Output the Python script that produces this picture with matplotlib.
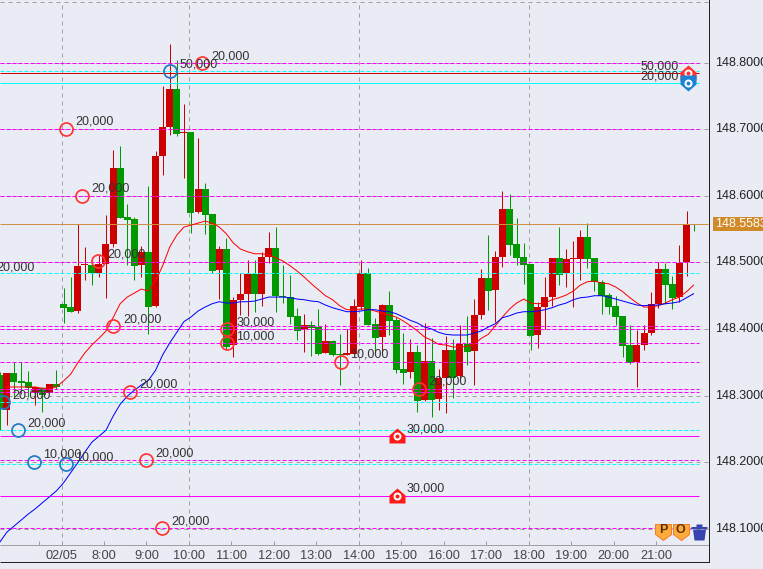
import numpy as np
import matplotlib
matplotlib.use("Agg")
import matplotlib.pyplot as plt
from matplotlib.path import Path
from matplotlib.patches import Rectangle

plt.rcParams["font.family"] = ["Liberation Sans", "DejaVu Sans"]
plt.rcParams["lines.scale_dashes"] = False

# 10 minute bars, index 0 is the first bar of 02/05
first_bar = -9
opens = [
    148.331, 148.278, 148.334, 148.322, 148.320, 148.304, 148.311, 148.304, 148.317,
    148.438, 148.433, 148.427, 148.496, 148.496, 148.484, 148.498, 148.528, 148.642, 148.568,
    148.565, 148.496, 148.516, 148.435, 148.660, 148.703, 148.760, 148.694, 148.696, 148.576,
    148.610, 148.573, 148.489, 148.520, 148.376, 148.444, 148.453, 148.483, 148.453, 148.508,
    148.522, 148.450, 148.448, 148.420, 148.400, 148.406, 148.403, 148.364, 148.382, 148.362,
    148.361, 148.362, 148.433, 148.484, 148.408, 148.388, 148.436, 148.413, 148.340, 148.335,
    148.365, 148.293, 148.352, 148.295, 148.326, 148.368, 148.329, 148.377, 148.367, 148.421,
    148.477, 148.459, 148.508, 148.580, 148.528, 148.508, 148.498, 148.391, 148.433, 148.448,
    148.507, 148.484, 148.505, 148.505, 148.538, 148.507, 148.471, 148.451, 148.435, 148.420,
    148.376, 148.350, 148.376, 148.394, 148.438, 148.490, 148.468, 148.448, 148.501, 148.5583,
]
highs = [
    148.335, 148.334, 148.350, 148.350, 148.337, 148.313, 148.313, 148.317, 148.338,
    148.462, 148.478, 148.558, 148.523, 148.501, 148.511, 148.571, 148.669, 148.675, 148.588,
    148.568, 148.525, 148.615, 148.667, 148.765, 148.828, 148.804, 148.738, 148.696, 148.687,
    148.619, 148.573, 148.525, 148.537, 148.448, 148.484, 148.504, 148.504, 148.516, 148.546,
    148.553, 148.496, 148.481, 148.432, 148.423, 148.412, 148.430, 148.408, 148.383, 148.392,
    148.400, 148.445, 148.504, 148.492, 148.417, 148.438, 148.457, 148.418, 148.394, 148.385,
    148.376, 148.409, 148.386, 148.340, 148.389, 148.385, 148.406, 148.420, 148.445, 148.490,
    148.541, 148.517, 148.607, 148.603, 148.567, 148.529, 148.498, 148.441, 148.478, 148.507,
    148.553, 148.520, 148.532, 148.549, 148.559, 148.507, 148.474, 148.454, 148.450, 148.420,
    148.406, 148.399, 148.406, 148.456, 148.501, 148.499, 148.480, 148.526, 148.577, 148.5583,
]
lows = [
    148.248, 148.256, 148.298, 148.302, 148.298, 148.286, 148.275, 148.304, 148.310,
    148.409, 148.426, 148.424, 148.474, 148.466, 148.478, 148.447, 148.523, 148.567, 148.496,
    148.474, 148.478, 148.392, 148.433, 148.631, 148.691, 148.690, 148.627, 148.544, 148.574,
    148.543, 148.484, 148.445, 148.368, 148.358, 148.421, 148.420, 148.426, 148.435, 148.499,
    148.426, 148.439, 148.408, 148.383, 148.365, 148.359, 148.361, 148.364, 148.359, 148.316,
    148.361, 148.361, 148.429, 148.406, 148.365, 148.365, 148.391, 148.334, 148.317, 148.326,
    148.275, 148.292, 148.268, 148.278, 148.274, 148.296, 148.325, 148.346, 148.316, 148.415,
    148.429, 148.411, 148.493, 148.511, 148.496, 148.468, 148.368, 148.371, 148.400, 148.435,
    148.466, 148.463, 148.433, 148.474, 148.492, 148.457, 148.423, 148.423, 148.406, 148.358,
    148.347, 148.313, 148.368, 148.391, 148.432, 148.438, 148.430, 148.441, 148.480, 148.547,
]
closes = [
    148.281, 148.334, 148.320, 148.319, 148.311, 148.313, 148.301, 148.317, 148.313,
    148.432, 148.426, 148.495, 148.496, 148.484, 148.498, 148.528, 148.642, 148.567, 148.564,
    148.495, 148.516, 148.433, 148.660, 148.703, 148.760, 148.693, 148.696, 148.574, 148.610,
    148.571, 148.487, 148.520, 148.373, 148.444, 148.453, 148.483, 148.453, 148.508, 148.522,
    148.450, 148.448, 148.418, 148.397, 148.406, 148.402, 148.362, 148.382, 148.361, 148.361,
    148.364, 148.435, 148.484, 148.406, 148.386, 148.436, 148.412, 148.338, 148.334, 148.365,
    148.292, 148.352, 148.293, 148.326, 148.368, 148.326, 148.377, 148.365, 148.421, 148.477,
    148.457, 148.508, 148.580, 148.526, 148.507, 148.496, 148.389, 148.433, 148.448, 148.507,
    148.481, 148.505, 148.505, 148.538, 148.505, 148.471, 148.450, 148.433, 148.418, 148.374,
    148.349, 148.376, 148.394, 148.438, 148.490, 148.466, 148.447, 148.499, 148.558, 148.556,
]

# moving averages
fast_start = -8
fast_ma = [
    148.313, 148.313, 148.313, 148.313, 148.313, 148.311, 148.311, 148.313,
    148.322, 148.332, 148.349, 148.364, 148.376, 148.386, 148.397, 148.417, 148.438, 148.448,
    148.454, 148.460, 148.457, 148.472, 148.495, 148.523, 148.541, 148.553, 148.556, 148.559,
    148.562, 148.559, 148.553, 148.543, 148.529, 148.520, 148.516, 148.513, 148.513, 148.511,
    148.507, 148.502, 148.495, 148.487, 148.478, 148.468, 148.459, 148.450, 148.444, 148.435,
    148.429, 148.429, 148.430, 148.430, 148.427, 148.424, 148.421, 148.418, 148.412, 148.405,
    148.397, 148.388, 148.383, 148.377, 148.376, 148.373, 148.373, 148.374, 148.377, 148.386,
    148.392, 148.405, 148.418, 148.430, 148.439, 148.445, 148.439, 148.438, 148.439, 148.444,
    148.447, 148.451, 148.457, 148.466, 148.471, 148.472, 148.469, 148.468, 148.463, 148.456,
    148.447, 148.439, 148.433, 148.433, 148.435, 148.439, 148.444, 148.448, 148.456, 148.466,
]
slow_start = -9
slow_ma = [
    148.080, 148.095, 148.104, 148.113, 148.122, 148.130, 148.139, 148.148, 148.157,
    148.169, 148.184, 148.199, 148.215, 148.230, 148.239, 148.248, 148.269, 148.287, 148.299,
    148.308, 148.316, 148.323, 148.338, 148.361, 148.379, 148.395, 148.411, 148.418, 148.427,
    148.433, 148.438, 148.441, 148.439, 148.439, 148.441, 148.441, 148.442, 148.445, 148.448,
    148.448, 148.448, 148.447, 148.445, 148.444, 148.442, 148.441, 148.436, 148.432, 148.429,
    148.426, 148.426, 148.427, 148.429, 148.429, 148.427, 148.426, 148.423, 148.418, 148.413,
    148.409, 148.403, 148.400, 148.395, 148.392, 148.391, 148.391, 148.391, 148.394, 148.397,
    148.403, 148.408, 148.417, 148.420, 148.424, 148.426, 148.426, 148.427, 148.429, 148.432,
    148.436, 148.439, 148.444, 148.447, 148.448, 148.450, 148.450, 148.448, 148.445, 148.442,
    148.439, 148.436, 148.435, 148.436, 148.436, 148.438, 148.439, 148.441, 148.447, 148.453,
]

# order levels
magenta_dashed = [148.799, 148.701, 148.599, 148.500, 148.404, 148.400, 148.379, 148.351,
                  148.310, 148.306, 148.203, 148.101]
cyan_dashed = [148.787, 148.484, 148.290, 148.248, 148.197]
magenta_solid = [148.239, 148.150]
cyan_solid = [148.769]
red_solid = [148.784]
last_price = 148.5583
grid_prices = [148.1, 148.2, 148.3, 148.4, 148.5, 148.6, 148.7, 148.8]
grid_labels = ["148.1000", "148.2000", "148.3000", "148.4000", "148.5000", "148.6000",
               "148.7000", "148.8000"]

# time axis, one tick every 6 bars
time_labels = ["02/05", "8:00", "9:00", "10:00", "11:00", "12:00", "13:00", "14:00",
               "15:00", "16:00", "17:00", "18:00", "19:00", "20:00", "21:00"]
time_ticks = [-0.28, 5.72, 11.72, 17.72, 23.72, 29.72, 35.72, 41.72, 47.72, 53.72,
              59.72, 65.72, 71.72, 77.72, 83.72]
time_grid = [-0.28, 17.72, 41.72, 65.72]
extra_tick = [-3.46]

# trade circles
sell_bars = [0.35, 19.56, 2.6, 4.87, 7.06, 23.09, 23.09, 39.19, 50.2, 9.39, 11.65, 13.91]
sell_prices = [148.701, 148.799, 148.600, 148.502, 148.404, 148.400, 148.379, 148.351,
               148.310, 148.306, 148.203, 148.101]
sell_labels = ["20,000", "20,000", "20,000", "20,000", "20,000", "30,000", "10,000",
               "10,000", "20,000", "20,000", "20,000", "20,000"]
buy_bars = [15.04, -8.55, -6.43, -4.17, 0.35]
buy_prices = [148.787, 148.290, 148.248, 148.201, 148.197]
buy_labels = ["50,000", "20,000", "20,000", "10,000", "10,000"]

# order flags
flag_bars = [47.1, 47.1]
flag_prices = [148.239, 148.150]
flag_labels = ["30,000", "30,000"]
corner_bar = 88.2
corner_red = 148.784
corner_blue = 148.769
tool_bars = [84.68, 87.2]
tool_names = ["P", "O"]
trash_bar = 89.75
tool_price = 148.096

BG = "#E9ECF4"
RED = "#CC0000"
GREEN = "#009900"
MAGENTA = "#FF00FF"
CYAN = "#00FFFF"
GREY = "#A0A0A0"
TEXT = "#333333"
PX = 0.72  # one pixel in points at dpi 100


def px(n):
    return n * PX


fig = plt.figure(figsize=(7.63, 5.69), dpi=100, facecolor=BG)
ax = fig.add_axes([0, 0, 1, 1], facecolor=BG)
ax.set_xlim(-8.969, 98.8)
ax.set_ylim(148.0397, 148.894)
ax.set_axis_off()

bars = np.arange(first_bar, first_bar + len(opens))
o = np.array(opens)
h = np.array(highs)
l = np.array(lows)
c = np.array(closes)
up = c >= o
cols = np.where(up, RED, GREEN)

right_end = 89.76
plot_right = 91.2
x_left = -8.969
price_axis_y = 148.076
bottom_y = 148.050
top_y = 148.8905

grid_dash = (0, (px(4), px(4)))
order_dash = (0, (px(4), px(2)))


def hline(y, x1, color, style="-", z=3):
    # one plain Line2D per level
    ax.plot([x_left, x1], [y, y], color=color, lw=px(1), ls=style, snap=True,
            dash_capstyle="butt", solid_capstyle="butt", zorder=z)


# grid
for y in grid_prices + [top_y]:
    hline(y, plot_right, GREY, grid_dash, z=1)
for x in time_grid:
    ax.plot([x, x], [price_axis_y, top_y], color=GREY, lw=px(1), ls=grid_dash, snap=True,
            dash_capstyle="butt", zorder=1)

# candles
ax.vlines(bars, l, h, colors=cols, lw=px(1), snap=True, zorder=2)
body_h = np.maximum(np.abs(c - o), 0.0015)
ax.bar(bars, body_h, bottom=np.minimum(o, c), width=0.99, color=cols, linewidth=0, zorder=2)

# order levels
for y in magenta_dashed:
    hline(y, right_end, MAGENTA, order_dash)
for y in cyan_dashed:
    hline(y, right_end, CYAN, order_dash)
for y in magenta_solid:
    hline(y, right_end, MAGENTA)
for y in cyan_solid:
    hline(y, right_end, CYAN)
for y in red_solid:
    hline(y, right_end, RED)
hline(last_price, 91.05, "#CF8F45")

# moving averages
ax.plot(np.arange(fast_start, fast_start + len(fast_ma)), fast_ma, color="#FF0000", lw=px(1), zorder=4)
ax.plot(np.arange(slow_start, slow_start + len(slow_ma)), slow_ma, color="#0000FF", lw=px(1), zorder=4)

# frame
hline(price_axis_y, plot_right, GREY, z=4)
ax.vlines(time_ticks + extra_tick, price_axis_y, price_axis_y + 0.006, colors=GREY, lw=px(1),
          snap=True, zorder=4)
hline(bottom_y, plot_right, "#222222", z=4)
ax.plot([plot_right, plot_right], [bottom_y, 148.894], color="#222222", lw=px(1), snap=True, zorder=4)


def add_label(x, y, text, dx=9.5, dy=7, ha="left"):
    ax.annotate(text, (x, y), xytext=(px(dx), px(dy)), textcoords="offset points",
                ha=ha, va="center", fontsize=9, color=TEXT, zorder=8)


# circles
ax.plot(sell_bars, sell_prices, "o", ms=px(13), mfc="none", mec="#FF3333", mew=px(1.7), zorder=5)
ax.plot(buy_bars, buy_prices, "o", ms=px(13), mfc="none", mec="#1E78C8", mew=px(1.7), zorder=5)
for x, y, t in zip(sell_bars + buy_bars, sell_prices + buy_prices, sell_labels + buy_labels):
    add_label(x, y, t)
ax.text(-9.55, 148.4925, "20,000", ha="left", va="center", fontsize=9, color=TEXT, zorder=8,
        clip_on=False)

# flags
up_flag = Path([(0, 8), (8, 1), (8, -7), (-8, -7), (-8, 1), (0, 8)], closed=True)
down_flag = Path([(-8, 8), (8, 8), (8, -1), (0, -8), (-8, -1), (-8, 8)], closed=True)
tool_flag = Path([(-8, 8), (8, 8), (8, -2), (0, -8), (-8, -2), (-8, 8)], closed=True)
ax.plot(flag_bars, flag_prices, ls="none", marker=up_flag, ms=px(16), mfc="#FF1A1A", mew=0, zorder=5)
ax.plot(flag_bars, flag_prices, ls="none", marker="o", ms=px(6), mfc="none", mec="white", mew=px(2), zorder=6)
for x, y, t in zip(flag_bars, flag_prices, flag_labels):
    add_label(x, y, t, dx=10, dy=7)

ax.plot([corner_bar], [corner_red], ls="none", marker=up_flag, ms=px(16), mfc="#FF3030", mew=0, zorder=5)
ax.plot([corner_bar], [corner_red], ls="none", marker="o", ms=px(6), mfc="none", mec="white", mew=px(2), zorder=6)
ax.plot([corner_bar], [corner_blue], ls="none", marker=down_flag, ms=px(16), mfc="#1E82D2", mew=0, zorder=6)
ax.plot([corner_bar], [corner_blue], ls="none", marker="o", ms=px(6), mfc="none", mec="white", mew=px(2), zorder=7)
add_label(corner_bar, corner_red, "50,000", dx=-9, dy=7, ha="right")
add_label(corner_bar, corner_blue, "20,000", dx=-9, dy=7, ha="right")

# P / O buttons and bin
ax.plot(tool_bars, [tool_price] * 2, ls="none", marker=tool_flag, ms=px(16), mfc="#FFAA3C", mec="#F08030",
        mew=px(1), zorder=6)
for x, t in zip(tool_bars, tool_names):
    ax.annotate(t, (x, tool_price), xytext=(0, px(2)), textcoords="offset points", ha="center", va="center",
                fontsize=9, fontweight="bold", color="#5A3200", zorder=8)
bin_path = Path(
    [(-8, 5.5), (8, 5.5), (8, 3.5), (-8, 3.5), (-8, 5.5),
     (-3, 8), (3, 8), (3, 5.5), (-3, 5.5), (-3, 8),
     (-6.5, 3), (-5, -8), (5, -8), (6.5, 3), (-6.5, 3)],
    [Path.MOVETO, Path.LINETO, Path.LINETO, Path.LINETO, Path.CLOSEPOLY] * 3)
ax.plot([trash_bar], [tool_price], ls="none", marker=bin_path, ms=px(16), mfc="#3644B0", mew=0, zorder=6)

# price axis
for p, t in zip(grid_prices, grid_labels):
    ax.text(91.98, p, t, ha="left", va="center", fontsize=9, color="#222222", zorder=8)
ax.add_patch(Rectangle((91.7, last_price - 0.0112), 8, 0.0205, fc="#D08A28", ec="none", zorder=7))
ax.text(91.98, last_price, "148.5583", ha="left", va="center", fontsize=9, color="white", zorder=8)

# time labels
for x, t in zip(time_ticks, time_labels):
    ax.text(x, 148.0595, t, ha="center", va="center", fontsize=9.2, color="#444444", zorder=8)

fig.savefig("out.png", dpi=100, facecolor=BG)
plt.close(fig)
